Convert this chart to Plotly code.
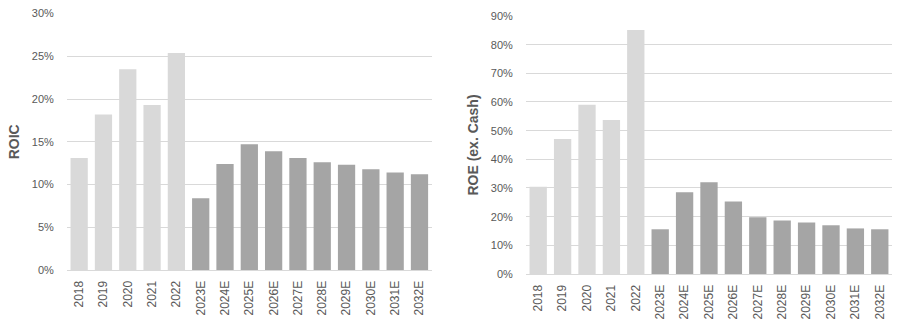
import plotly.graph_objects as go
from plotly.subplots import make_subplots

years = ["2018", "2019", "2020", "2021", "2022",
         "2023E", "2024E", "2025E", "2026E", "2027E",
         "2028E", "2029E", "2030E", "2031E", "2032E"]
roic = [0.131, 0.182, 0.235, 0.193, 0.254,
        0.084, 0.124, 0.147, 0.139, 0.131,
        0.126, 0.123, 0.118, 0.114, 0.112]
roe_ex_cash = [0.304, 0.471, 0.590, 0.537, 0.851,
               0.156, 0.285, 0.320, 0.253, 0.198,
               0.187, 0.180, 0.170, 0.159, 0.156]

HIST = "#D9D9D9"
FCST = "#A5A5A5"
TEXT = "#595959"
GRID = "#D9D9D9"
FAMILY = "Liberation Sans, Arial, sans-serif"

colors = [FCST if y.endswith("E") else HIST for y in years]

fig = make_subplots(rows=1, cols=2)
fig.add_trace(go.Bar(x=years, y=roic, marker=dict(color=colors, line=dict(width=0)),
                     showlegend=False), row=1, col=1)
fig.add_trace(go.Bar(x=years, y=roe_ex_cash, marker=dict(color=colors, line=dict(width=0)),
                     showlegend=False), row=1, col=2)

xcommon = dict(type="category", tickangle=-90, showgrid=False, showline=True,
               linecolor=GRID, linewidth=1, ticks="outside", ticklen=5,
               tickcolor="rgba(0,0,0,0)", automargin=False,
               tickfont=dict(family=FAMILY, size=12, color=TEXT))
ycommon = dict(tickformat=".0%", showgrid=True, gridcolor=GRID, gridwidth=1,
               zeroline=False, showline=False, ticks="outside", ticklen=10,
               tickcolor="rgba(0,0,0,0)", automargin=False,
               tickfont=dict(family=FAMILY, size=11, color=TEXT))
title_font = dict(family=FAMILY, size=14, color=TEXT)

fig.update_layout(
    width=903, height=331,
    margin=dict(l=0, r=0, t=0, b=0, autoexpand=False),
    paper_bgcolor="white", plot_bgcolor="white",
    bargap=0.29,
    xaxis=dict(domain=[0.0742, 0.478], **xcommon),
    xaxis2=dict(domain=[0.5825, 0.9878], **xcommon),
    yaxis=dict(domain=[0.1843, 0.959], range=[0, 0.30], dtick=0.05,
               title=dict(text="<b>ROIC</b>", standoff=8, font=title_font),
               **ycommon),
    yaxis2=dict(domain=[0.1722, 0.9517], range=[0, 0.90], dtick=0.10,
                title=dict(text="<b>ROE (ex. Cash)</b>", standoff=8, font=title_font),
                **ycommon),
)

fig.write_html("out.html")
